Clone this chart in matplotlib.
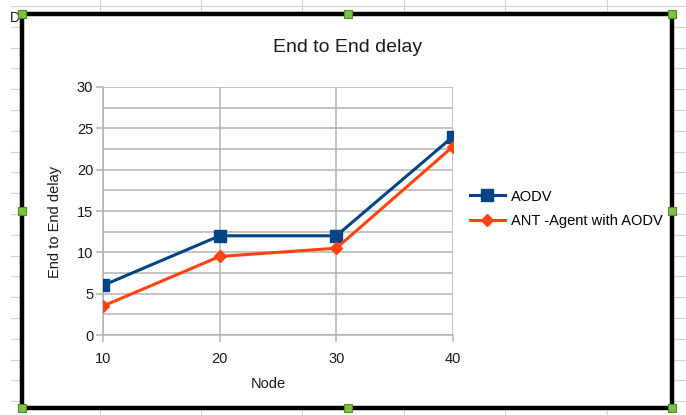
import matplotlib

matplotlib.use("Agg")

import matplotlib.pyplot as plt
from matplotlib.lines import Line2D
from matplotlib.patches import Rectangle
from matplotlib.ticker import MultipleLocator

plt.rcParams["font.family"] = ["Liberation Sans", "DejaVu Sans"]

nodes = [10, 20, 30, 40]
aodv = [6, 12, 12, 24]
ant_aodv = [3.5, 9.5, 10.5, 22.8]

W, H = 686, 415
fig = plt.figure(figsize=(W / 100, H / 100), dpi=100)
fig.patch.set_facecolor("white")


def fx(x):
    return x / W


def fy(y):
    return 1 - y / H


# spreadsheet cells behind the chart object
cell_color = "#d4d4d4"
for i in range(20):
    yy = 6 + i * 20.8
    fig.add_artist(Line2D([fx(11), fx(W)], [fy(yy), fy(yy)], color=cell_color,
                          lw=0.8, zorder=0))
for xx in [100, 201, 302, 404, 505, 607]:
    fig.add_artist(Line2D([fx(xx), fx(xx)], [fy(0), fy(H)], color=cell_color,
                          lw=0.8, zorder=0))
fig.text(fx(10), fy(22.5), "D", fontsize=10, color="#1a1a1a", zorder=0.5)

# chart object: white area, thick black border, green selection handles
fig.add_artist(Rectangle((fx(22), fy(408)), fx(650), 394 / H, facecolor="white",
                         edgecolor="none", zorder=1))
fig.add_artist(Rectangle((fx(22), fy(408)), fx(650), 394 / H, facecolor="none",
                         edgecolor="black", lw=3.2, zorder=5))
for hx in [22, 348, 672]:
    for hy in [14, 211, 408]:
        if hx == 348 and hy == 211:
            continue
        fig.add_artist(Rectangle((fx(hx - 4), fy(hy + 4)), fx(8), 8 / H,
                                 facecolor="#7dc242", edgecolor="#4e8a1e",
                                 lw=0.8, zorder=6))

ax = fig.add_axes([fx(103), fy(335), fx(350), 248 / H], zorder=2)
ax.set_facecolor("white")

ax.plot(nodes, aodv, color="#004586", lw=2.2, marker="s", markersize=8,
        label="AODV", zorder=3)
ax.plot(nodes, ant_aodv, color="#ff420e", lw=2.2, marker="D", markersize=6.5,
        label="ANT -Agent with AODV", zorder=3)

ax.set_xlim(10, 40)
ax.set_ylim(0, 30)
ax.set_xticks(nodes)
ax.yaxis.set_major_locator(MultipleLocator(5))
ax.yaxis.set_minor_locator(MultipleLocator(2.5))
ax.grid(True, which="both", color="#b3b3b3", lw=1.1)
ax.set_axisbelow(True)
for side in ["top", "right"]:
    ax.spines[side].set_visible(False)
for side in ["left", "bottom"]:
    ax.spines[side].set_color("#b3b3b3")
    ax.spines[side].set_linewidth(1.1)
ax.tick_params(which="major", length=5, width=1.1, color="#b3b3b3",
               labelsize=10.5, labelcolor="#1a1a1a")
ax.tick_params(axis="y", pad=2)
ax.tick_params(axis="x", pad=7)
ax.tick_params(which="minor", length=0)

fig.text(fx(348), fy(47), "End to End delay", fontsize=14, color="#1a1a1a",
         ha="center", va="center", zorder=3)
fig.text(fx(268), fy(384), "Node", fontsize=10.5, color="#1a1a1a",
         ha="center", va="center", zorder=3)
fig.text(fx(55), fy(222), "End to End delay", fontsize=10.5, color="#1a1a1a",
         ha="center", va="center", rotation=90, zorder=3)

ax.legend(loc="center left", bbox_to_anchor=(fx(464), fy(209)),
          bbox_transform=fig.transFigure, frameon=False, fontsize=10.5,
          handlelength=2.4, handletextpad=0.45, labelspacing=0.75,
          borderaxespad=0)

fig.savefig("out.png", dpi=100)
